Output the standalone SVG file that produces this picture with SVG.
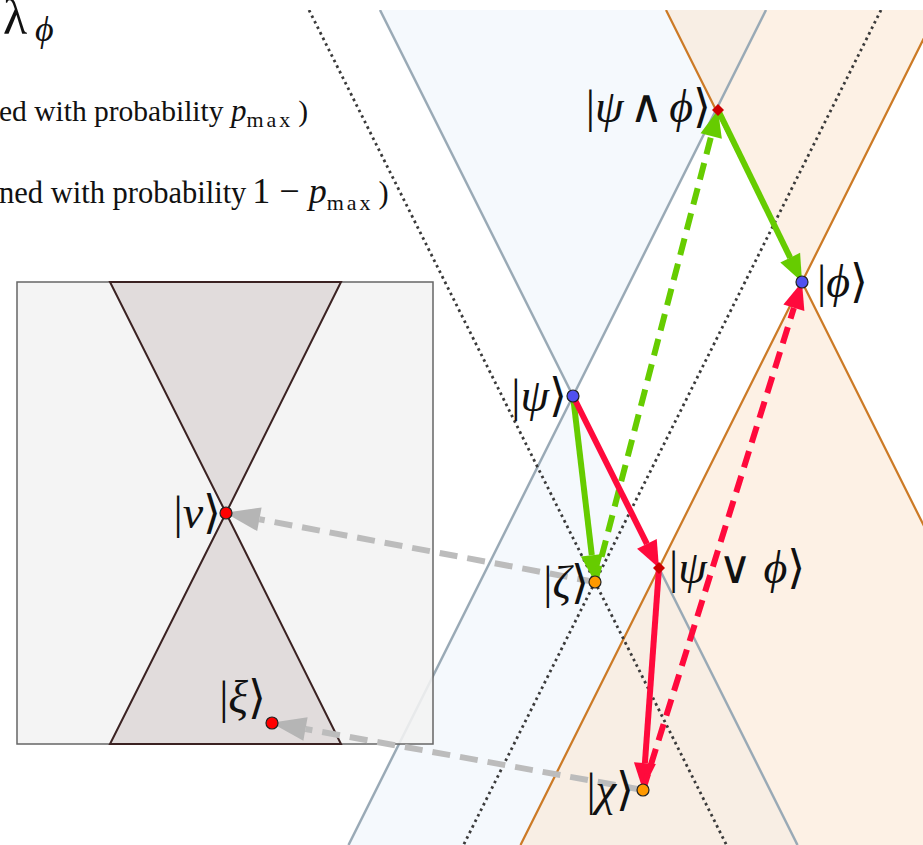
<svg xmlns="http://www.w3.org/2000/svg" width="923" height="845" viewBox="0 0 923 845">
<style>
.t{font-family:"Liberation Serif","Times New Roman","DejaVu Serif",serif;fill:#111}
.lab{font-family:"Liberation Serif","Times New Roman","DejaVu Serif",serif;font-size:46px;fill:#111}
.i{font-style:italic}
.cb{stroke:#9aaab6;stroke-width:2.5;fill:none}
.co{stroke:#cc7a26;stroke-width:2.2;fill:none}
.dot{stroke:#3a3a3a;stroke-width:2.8;stroke-dasharray:2.6 3.6;fill:none}
.g{stroke:#66cc00;stroke-width:6;fill:none}
.r{stroke:#ff0a3c;stroke-width:6;fill:none}
.gr{stroke:#bcbcbc;stroke-width:6;fill:none;stroke-dasharray:18 10}
.dash{stroke-dasharray:17 9}
.pt{stroke:#222;stroke-width:1.2}
</style>
<defs>
<clipPath id="clip"><rect x="0" y="10" width="923" height="835"/></clipPath>
<marker id="hg" markerUnits="userSpaceOnUse" markerWidth="28" markerHeight="24" refX="0" refY="11" orient="auto" overflow="visible"><path d="M0,0 L27,11 L0,22 Z" fill="#66cc00" stroke="none"/></marker>
<marker id="hr" markerUnits="userSpaceOnUse" markerWidth="28" markerHeight="24" refX="0" refY="11" orient="auto" overflow="visible"><path d="M0,0 L27,11 L0,22 Z" fill="#ff0a3c" stroke="none"/></marker>
<marker id="hgr" markerUnits="userSpaceOnUse" markerWidth="36" markerHeight="26" refX="0" refY="12" orient="auto" overflow="visible"><path d="M0,0 L35,12 L0,24 Z" fill="#b5b5b5" stroke="none"/></marker>
</defs>

<g id="cones" clip-path="url(#clip)">
<polygon points="380,10 766,10 573,396" fill="#f5f9fd"/>
<polygon points="573,396 348.5,845 797.5,845" fill="#f5f9fd"/>
<polygon points="666,10 938,10 802,282" fill="#fbe3cb" fill-opacity="0.5"/>
<polygon points="802,282 520.5,845 1083.5,845" fill="#fbe3cb" fill-opacity="0.5"/>
<line class="cb" x1="380" y1="10" x2="797.5" y2="845"/>
<line class="cb" x1="766" y1="10" x2="348.5" y2="845"/>
<line class="co" x1="666" y1="10" x2="1083.5" y2="845"/>
<line class="co" x1="938" y1="10" x2="520.5" y2="845"/>
<line class="dot" x1="309" y1="10" x2="726.5" y2="845"/>
<line class="dot" x1="881" y1="10" x2="463.5" y2="845"/>
</g>

<g id="header">
<text class="t" x="3" y="34" font-size="50">λ</text>
<text class="t i" x="35" y="41" font-size="36">ϕ</text>
<text class="t" x="-1" y="121" font-size="29.5">ed with probability <tspan class="i" font-size="31">p</tspan><tspan font-size="22" dy="6" letter-spacing="3">max</tspan><tspan dy="-6" dx="5">)</tspan></text>
<text class="t" x="-1" y="203" font-size="30.5">ned with probability<tspan font-size="36" dx="6">1 − </tspan><tspan class="i" font-size="36">p</tspan><tspan font-size="22" dy="7" letter-spacing="3">max</tspan><tspan dy="-7" dx="5">)</tspan></text>
</g>

<g id="inset">
<rect x="17" y="282" width="416" height="462" fill="#f3f3f3" fill-opacity="0.88" stroke="#666" stroke-width="1.5"/>
<polygon points="110,282 341,282 226,513" fill="#e1dcdc" stroke="#3b2222" stroke-width="2"/>
<polygon points="226,513 110,744 341,744" fill="#e1dcdc" stroke="#3b2222" stroke-width="2"/>
</g>

<g id="connectors">
<line class="gr" x1="595" y1="582" x2="259.4" y2="519.3" marker-end="url(#hgr)"/>
<line class="gr" x1="643" y1="790" x2="305.5" y2="729" marker-end="url(#hgr)"/>
<line class="g" x1="718" y1="110" x2="790.2" y2="257.7" marker-end="url(#hg)"/>
<line class="g" x1="573" y1="396" x2="591.8" y2="555.2" marker-end="url(#hg)"/>
<line class="g dash" x1="595" y1="582" x2="711.2" y2="136.1" marker-end="url(#hg)"/>
<line class="r" x1="573" y1="396" x2="646.9" y2="543.8" marker-end="url(#hr)"/>
<line class="r" x1="659" y1="568" x2="644.9" y2="763.1" marker-end="url(#hr)"/>
<line class="r dash" x1="643" y1="790" x2="793.9" y2="307.8" marker-end="url(#hr)"/>
</g>

<g id="node-psi"><circle class="pt" cx="573" cy="396" r="6" fill="#5050f0"/><text class="lab" x="567" y="411" text-anchor="end">|<tspan class="i">ψ</tspan>⟩</text></g>
<g id="node-phi"><circle class="pt" cx="802" cy="282" r="6" fill="#5050f0"/><text class="lab" x="817" y="297">|<tspan class="i">ϕ</tspan>⟩</text></g>
<g id="node-and"><polygon points="718,104 724,110 718,116 712,110" fill="#cc0000"/><text class="lab" x="711" y="122" text-anchor="end">|<tspan class="i">ψ</tspan><tspan dx="6">∧</tspan><tspan class="i" dx="6">ϕ</tspan>⟩</text></g>
<g id="node-or"><polygon points="659,562 665,568 659,574 653,568" fill="#cc0000"/><text class="lab" x="669" y="583">|<tspan class="i">ψ</tspan> ∨ <tspan class="i">ϕ</tspan>⟩</text></g>
<g id="node-zeta"><circle class="pt" cx="595" cy="582" r="6" fill="#ff9900"/><text class="lab" x="589" y="598" text-anchor="end">|<tspan class="i">ζ</tspan>⟩</text></g>
<g id="node-chi"><circle class="pt" cx="643" cy="790" r="6" fill="#ff9900"/><text class="lab" x="634" y="805" text-anchor="end">|<tspan class="i">χ</tspan>⟩</text></g>
<g id="node-nu"><circle class="pt" cx="226" cy="513" r="6" fill="#ff0000"/><text class="lab" x="221" y="528" text-anchor="end">|<tspan class="i">ν</tspan>⟩</text></g>
<g id="node-xi"><circle class="pt" cx="272" cy="723" r="6" fill="#ff0000"/><text class="lab" x="266" y="713" text-anchor="end">|<tspan class="i">ξ</tspan>⟩</text></g>
</svg>
